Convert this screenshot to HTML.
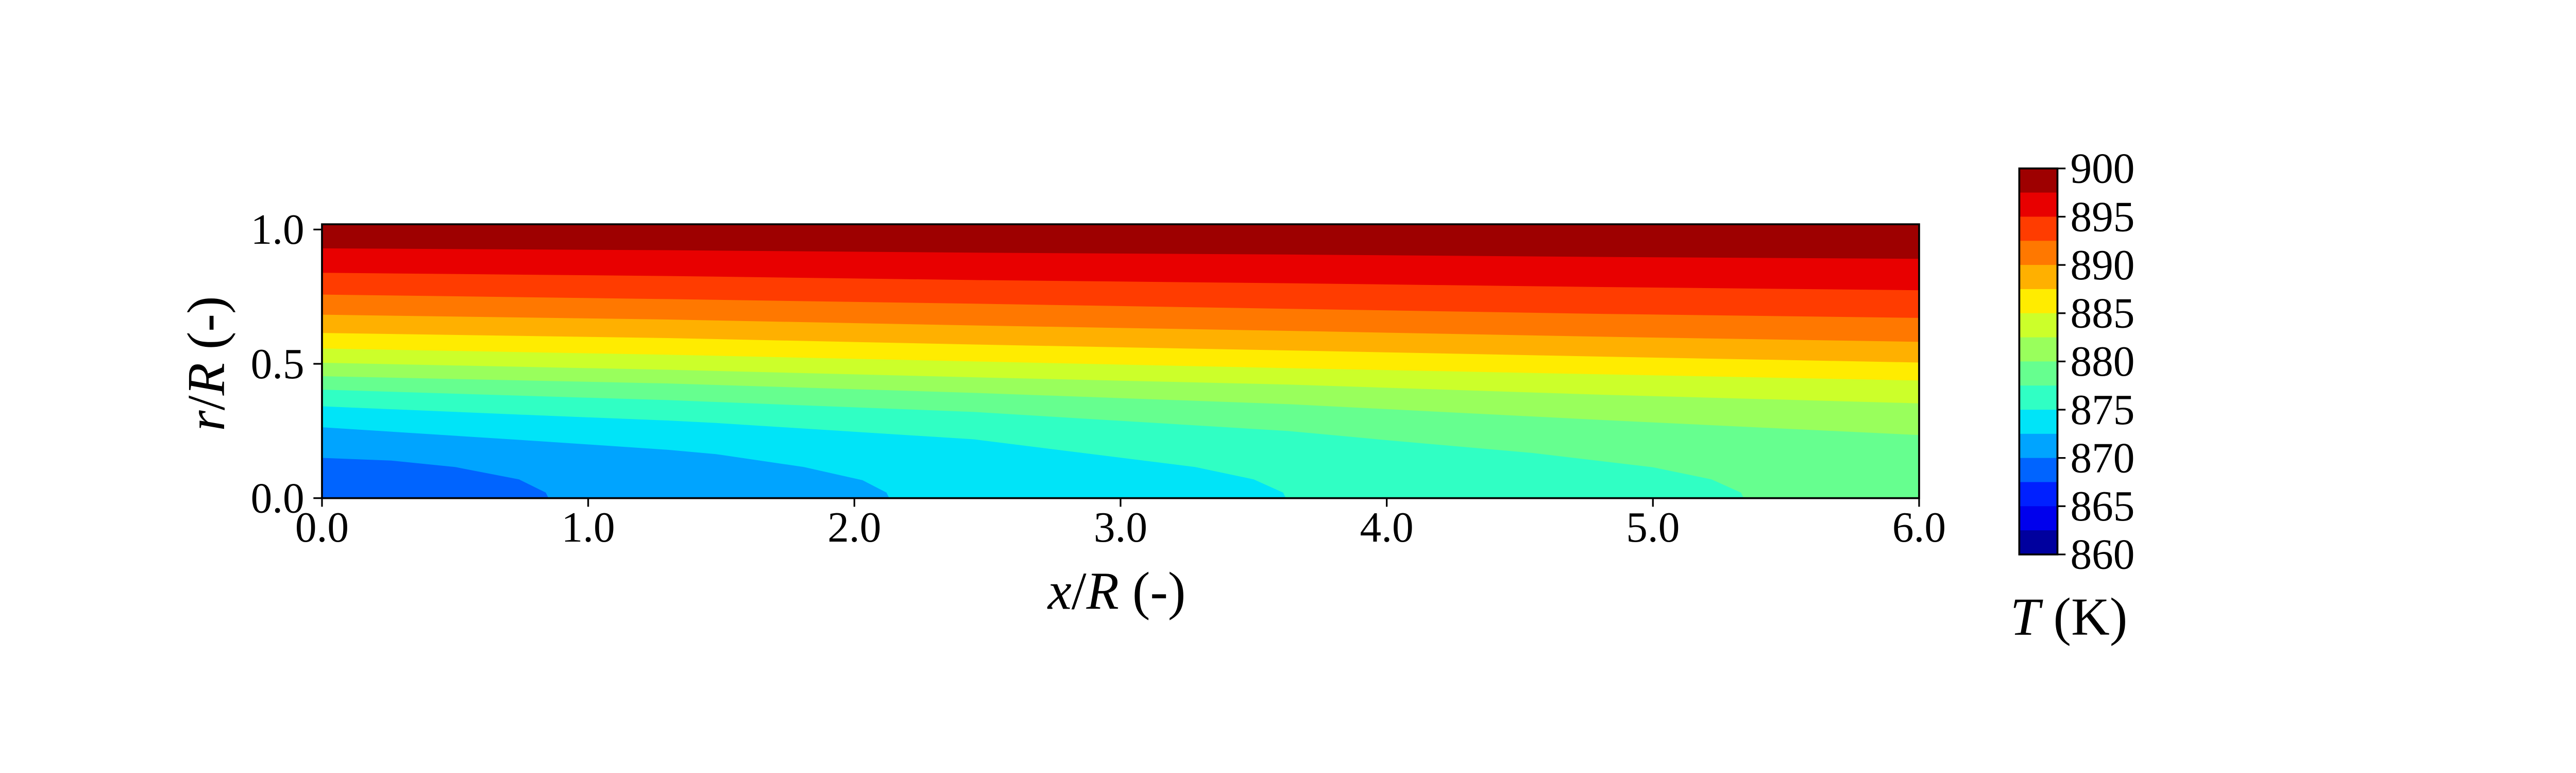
<!DOCTYPE html>
<html><head><meta charset="utf-8"><style>
html,body{margin:0;padding:0;background:#fff;overflow:hidden;}
svg{display:block;position:absolute;left:0;top:0;width:100vw;height:27.7778vw;}
text{font-family:"Liberation Serif",serif;fill:#000;}
</style></head>
<body>
<svg id="chart" viewBox="0 0 5400 1500" preserveAspectRatio="xMinYMin meet" xmlns="http://www.w3.org/2000/svg">
<rect x="0" y="0" width="5400" height="1500" fill="#fff"/>
<g id="field"></g>
<g id="axes"></g>
<g id="cbar"></g>
<text x="2341" y="1276" font-size="112" text-anchor="middle"><tspan font-style="italic">x</tspan>/<tspan font-style="italic">R</tspan> (-)</text>
<text transform="translate(470,762) rotate(-90)" font-size="112" text-anchor="middle"><tspan font-style="italic">r</tspan>/<tspan font-style="italic">R</tspan> (-)</text>
<text x="4337" y="1330" font-size="112" text-anchor="middle"><tspan font-style="italic">T</tspan> (K)</text>
</svg>
<script>
// ---- data ----
const bandLevels = [900,897.5,895,892.5,890,887.5,885,882.5,880,877.5,875,872.5,870,867.5,865,862.5,860];
const bandColors = ["#9e0000","#e80000","#ff3c00","#ff7800","#ffb000","#ffec00","#ccff2a","#99ff5c","#66ff8f","#30ffc4","#00e4f8","#00a4ff","#0064ff","#0020ff","#0000ed","#00009e"];
const boundaryLevels = [897.5,895,892.5,890,887.5,885,882.5,880,877.5,875,872.5,870];
const boundaryX = [
 [0,1.30,2.45,3.63,4.81,6],
 [0,1.30,2.45,3.63,4.81,6],
 [0,1.30,2.45,3.63,4.81,6],
 [0,1.30,2.45,3.63,4.81,6],
 [0,1.30,2.45,3.63,4.81,6],
 [0,1.30,2.45,3.63,4.81,6],
 [0,1.30,2.45,3.63,4.81,6],
 [0,1.30,2.45,3.63,4.81,6],
 [0,1.30,2.45,3.63,4.0,4.55,5.0,5.22,5.33,5.34],
 [0,0.82,1.30,1.48,2.45,3.28,3.50,3.61,3.62],
 [0,0.82,1.30,1.48,1.81,2.03,2.12,2.13],
 [0,0.26,0.50,0.74,0.84,0.85]
];
const boundaryR = [
 [0.929,0.922,0.913,0.906,0.897,0.890],
 [0.838,0.826,0.811,0.799,0.785,0.773],
 [0.757,0.740,0.723,0.704,0.685,0.670],
 [0.682,0.664,0.642,0.622,0.600,0.581],
 [0.614,0.595,0.571,0.549,0.526,0.504],
 [0.556,0.533,0.508,0.483,0.460,0.437],
 [0.503,0.477,0.449,0.422,0.384,0.352],
 [0.453,0.426,0.391,0.349,0.290,0.234],
 [0.403,0.364,0.320,0.249,0.215,0.167,0.114,0.069,0.02,0],
 [0.341,0.307,0.288,0.279,0.218,0.115,0.069,0.02,0],
 [0.263,0.211,0.179,0.163,0.115,0.066,0.02,0],
 [0.149,0.139,0.115,0.069,0.02,0]
];
const xTicks = [0,1,2,3,4,5,6];
const xTickLabels = ["0.0","1.0","2.0","3.0","4.0","5.0","6.0"];
const yTicks = [0,0.5,1.0];
const yTickLabels = ["0.0","0.5","1.0"];
const cbTicks = [900,895,890,885,880,875,870,865,860];
const cbTickLabels = ["900","895","890","885","880","875","870","865","860"];

// ---- scales ----
const X0=675, X1=4023, Y0=1044, Y1=470;
const xMin=0, xMax=6, yMin=0, yMax=1.0195;
function xs(v){return X0+(v-xMin)/(xMax-xMin)*(X1-X0);}
function ys(v){return Y0-(v-yMin)/(yMax-yMin)*(Y0-Y1);}
const CB={x0:4233,x1:4313,y0:1162,y1:353,min:860,max:900};
function cs(v){return CB.y0-(v-CB.min)/(CB.max-CB.min)*(CB.y0-CB.y1);}
const NS="http://www.w3.org/2000/svg";
function mk(tag,attrs,parent){const e=document.createElementNS(NS,tag);for(const k in attrs)e.setAttribute(k,attrs[k]);parent.appendChild(e);return e;}

// ---- field ----
const field=document.getElementById('field');
const bg=mk('rect',{x:X0,y:Y1,width:X1-X0,height:Y0-Y1,fill:bandColors[0]},field);


boundaryLevels.forEach((lev,i)=>{
  const bx=boundaryX[i], br=boundaryR[i];
  let d='M'+xs(bx[0])+','+ys(br[0]);
  for(let j=1;j<bx.length;j++) d+=' L'+xs(bx[j])+','+ys(br[j]);
  d+=' L'+xs(bx[bx.length-1])+','+ys(0)+' L'+xs(0)+','+ys(0)+' Z';
  const ci=bandLevels.indexOf(lev);
  const p=mk('path',{d:d,fill:bandColors[ci],stroke:bandColors[ci],'stroke-width':1},field);
  
  
});

// ---- axes ----
const axes=document.getElementById('axes');
const frame=mk('rect',{x:X0,y:Y1,width:X1-X0,height:Y0-Y1,fill:'none',stroke:'#000','stroke-width':4},axes);


xTicks.forEach((t,i)=>{
  const l=mk('line',{x1:xs(t),x2:xs(t),y1:Y0,y2:Y0+18,stroke:'#000','stroke-width':3.5},axes);
  
  
  const tx=mk('text',{x:xs(t),y:1135,'font-size':90,'text-anchor':'middle'},axes);
  tx.textContent=xTickLabels[i];
  
  
});
yTicks.forEach((t,i)=>{
  const l=mk('line',{x1:X0-18,x2:X0,y1:ys(t),y2:ys(t),stroke:'#000','stroke-width':3.5},axes);
  
  
  const tx=mk('text',{x:638,y:ys(t)+30,'font-size':90,'text-anchor':'end'},axes);
  tx.textContent=yTickLabels[i];
  
  
});

// ---- colorbar ----
const cbar=document.getElementById('cbar');
bandColors.forEach((c,i)=>{
  const top=bandLevels[i], bot=bandLevels[i+1];
  const r=mk('rect',{x:CB.x0,y:cs(top),width:CB.x1-CB.x0,height:cs(bot)-cs(top)+0.5,fill:c},cbar);
  
  
});
const cbf=mk('rect',{x:CB.x0,y:CB.y1,width:CB.x1-CB.x0,height:CB.y0-CB.y1,fill:'none',stroke:'#000','stroke-width':4},cbar);


cbTicks.forEach((t,i)=>{
  const l=mk('line',{x1:CB.x1,x2:CB.x1+17,y1:cs(t),y2:cs(t),stroke:'#000','stroke-width':3.5},cbar);
  
  
  const tx=mk('text',{x:4340,y:cs(t)+30,'font-size':90},cbar);
  tx.textContent=cbTickLabels[i];
  
  
});
</script>
</body></html>
